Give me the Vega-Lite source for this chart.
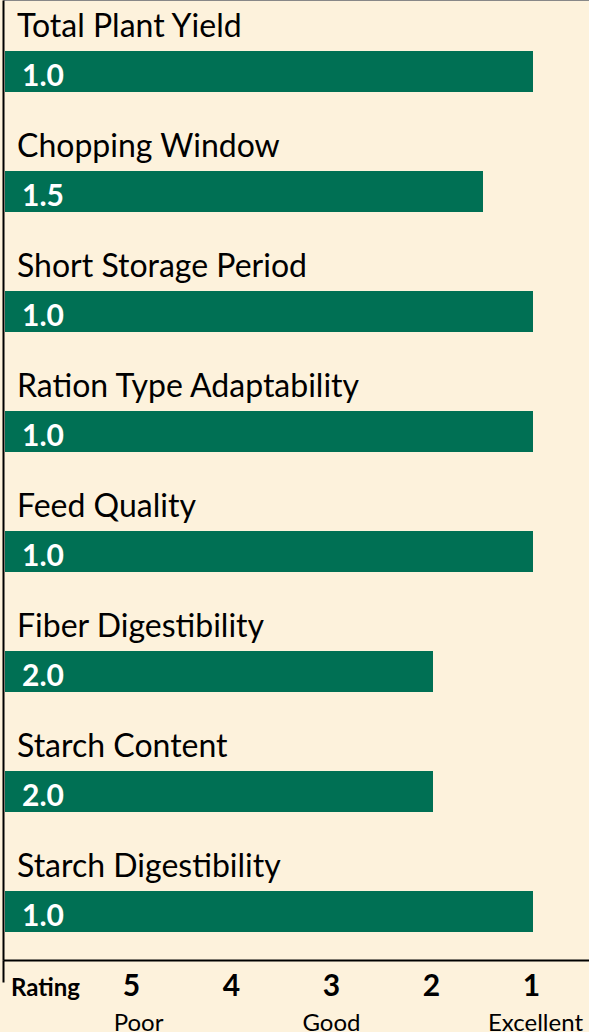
{
  "$schema": "https://vega.github.io/schema/vega-lite/v6.json",
  "autosize": "none",
  "width": 586,
  "height": 960,
  "padding": {"left": 3, "right": 0, "top": 0, "bottom": 72},
  "background": "#FDF2DC",
  "config": {"view": {"stroke": null}, "font": "Lato"},
  "data": {"values": [
    {"trait": "Total Plant Yield", "rating": 1.0},
    {"trait": "Chopping Window", "rating": 1.5},
    {"trait": "Short Storage Period", "rating": 1.0},
    {"trait": "Ration Type Adaptability", "rating": 1.0},
    {"trait": "Feed Quality", "rating": 1.0},
    {"trait": "Fiber Digestibility", "rating": 2.0},
    {"trait": "Starch Content", "rating": 2.0},
    {"trait": "Starch Digestibility", "rating": 1.0}
  ]},
  "resolve": {"axis": {"x": "independent"}},
  "encoding": {
    "y": {
      "field": "trait", "type": "nominal", "sort": null,
      "scale": {"paddingInner": 0, "paddingOuter": 0},
      "axis": {"title": null, "labels": false, "ticks": false, "domain": true, "domainColor": "black", "domainWidth": 2, "grid": false}
    }
  },
  "layer": [
    {
      "mark": {"type": "bar", "color": "#007054", "height": {"band": 0.342}, "yOffset": 11.5},
      "encoding": {
        "x": {
          "field": "rating", "type": "quantitative",
          "scale": {"domain": [0.44, 6.30], "reverse": true, "nice": false, "zero": false},
          "axis": {
            "orient": "bottom",
            "title": null, "grid": false,
            "values": [6.30, 5.86, 5, 4, 3, 2, 1],
            "labelExpr": "datum.value > 6 ? '' : datum.value > 5.5 ? 'Rating' : format(datum.value, '.0f')",
            "labelFont": "Lato", "labelFontWeight": "bold", "labelColor": "black",
            "labelFontSize": {"condition": {"test": "datum.value > 5.5", "value": 24}, "value": 30},
            "labelBaseline": "alphabetic", "labelPadding": 13, "labelOffset": -2,
            "labelOverlap": false, "labelFlush": false,
            "ticks": true, "tickSize": 22, "tickWidth": 2, "tickColor": "black",
            "tickOpacity": {"condition": {"test": "datum.value > 6", "value": 1}, "value": 0},
            "domain": true, "domainColor": "black", "domainWidth": 2
          }
        },
        "x2": {"datum": 6.28}
      }
    },
    {
      "mark": {"type": "text", "align": "left", "baseline": "alphabetic", "dx": 12, "yOffset": -23, "fontSize": 32, "font": "Lato", "color": "black"},
      "encoding": {
        "x": {
          "datum": 6.28, "type": "quantitative",
          "axis": {
            "orient": "bottom",
            "title": null, "grid": false, "domain": false, "ticks": false,
            "values": [4.95, 3.02, 0.98],
            "labelExpr": "datum.value > 4 ? 'Poor' : datum.value > 2 ? 'Good' : 'Excellent'",
            "labelFont": "Lato", "labelFontSize": 24, "labelColor": "black",
            "labelBaseline": "alphabetic", "labelPadding": 70,
            "labelOverlap": false, "labelFlush": false
          }
        },
        "text": {"field": "trait"}
      }
    },
    {
      "mark": {"type": "text", "align": "left", "baseline": "alphabetic", "dx": 17, "yOffset": 26, "fontSize": 30, "fontWeight": "bold", "font": "Lato", "color": "white"},
      "encoding": {
        "x": {"datum": 6.28, "type": "quantitative"},
        "text": {"field": "rating", "format": ".1f"}
      }
    }
  ]
}
